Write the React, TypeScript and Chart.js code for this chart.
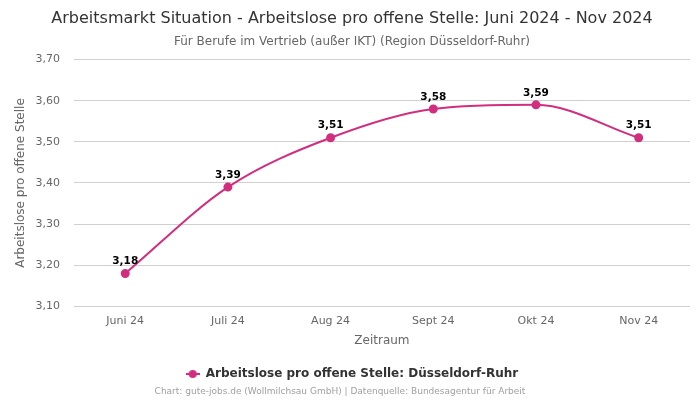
import React, { useEffect, useRef } from "react";
import { Chart, registerables } from "chart.js";

Chart.register(...registerables);

const categories = ["Juni 24", "Juli 24", "Aug 24", "Sept 24", "Okt 24", "Nov 24"];
const values = [3.18, 3.39, 3.51, 3.58, 3.59, 3.51];
const seriesLabel = "Arbeitslose pro offene Stelle: Düsseldorf-Ruhr";
const titleText = "Arbeitsmarkt Situation - Arbeitslose pro offene Stelle: Juni 2024 - Nov 2024";
const subtitleText = "Für Berufe im Vertrieb (außer IKT) (Region Düsseldorf-Ruhr)";
const footerText = "Chart: gute-jobs.de (Wollmilchsau GmbH) | Datenquelle: Bundesagentur für Arbeit";
const yMin = 3.1;
const yMax = 3.7;

const COLOR = "#d22e7e";
const FONT = "'DejaVu Sans', sans-serif";

const fmt = (v: number) => v.toFixed(2).replace(".", ",");

export default function App() {
  const ref = useRef<HTMLCanvasElement | null>(null);
  useEffect(() => {
    if (!ref.current) return;
    const legendIcon = document.createElement("canvas");
    legendIcon.width = 14;
    legendIcon.height = 10;
    const lc = legendIcon.getContext("2d")!;
    lc.strokeStyle = COLOR;
    lc.lineWidth = 2;
    lc.beginPath();
    lc.moveTo(0, 5);
    lc.lineTo(14, 5);
    lc.stroke();
    lc.fillStyle = COLOR;
    lc.beginPath();
    lc.arc(7, 5, 4, 0, Math.PI * 2);
    lc.fill();

    const labelPlugin = {
      id: "valueLabels",
      afterDatasetsDraw(chart: any) {
        const ctx = chart.ctx;
        const meta = chart.getDatasetMeta(0);
        ctx.save();
        ctx.font = `bold 10.5px ${FONT}`;
        ctx.fillStyle = "#000";
        ctx.textAlign = "center";
        ctx.textBaseline = "middle";
        meta.data.forEach((pt: any, i: number) => {
          ctx.fillText(fmt(values[i]), pt.x, pt.y - 12);
        });
        ctx.restore();
      },
    };
    const footerPlugin = {
      id: "footer",
      afterDraw(chart: any) {
        const ctx = chart.ctx;
        ctx.save();
        ctx.font = `9px ${FONT}`;
        ctx.fillStyle = "#a0a0a0";
        ctx.textAlign = "center";
        ctx.textBaseline = "middle";
        ctx.fillText(footerText, 340, 392);
        ctx.restore();
      },
    };

    const chart = new Chart(ref.current, {
      type: "line",
      data: {
        labels: categories,
        datasets: [
          {
            label: seriesLabel,
            data: values,
            borderColor: COLOR,
            backgroundColor: COLOR,
            borderWidth: 2,
            pointRadius: 3.5,
            pointHoverRadius: 3.5,
            pointBackgroundColor: COLOR,
            pointBorderColor: COLOR,
            cubicInterpolationMode: "monotone",
          },
        ],
      },
      options: {
        responsive: false,
        animation: false,
        layout: { padding: { left: 14, right: 10, top: 0, bottom: 10 } },
        plugins: {
          title: {
            display: true,
            text: titleText,
            color: "#333",
            font: { family: FONT, size: 16, weight: "normal" },
            padding: { top: 9, bottom: 4 },
          },
          subtitle: {
            display: true,
            text: subtitleText,
            color: "#666",
            font: { family: FONT, size: 12, weight: "normal" },
            padding: { top: 2, bottom: 11 },
          },
          legend: {
            position: "bottom",
            labels: {
              usePointStyle: true,
              pointStyle: legendIcon as any,
              pointStyleWidth: 14,
              color: "#333",
              font: { family: FONT, size: 12, weight: "bold" },
              padding: 10,
            },
          },
          tooltip: { enabled: false },
        },
        scales: {
          x: {
            offset: true,
            grid: { display: false, drawTicks: false },
            border: { display: false },
            ticks: { color: "#666", font: { family: FONT, size: 11 }, padding: 8 },
            title: {
              display: true,
              text: "Zeitraum",
              color: "#666",
              font: { family: FONT, size: 12 },
              padding: { top: -2, bottom: 10 },
            },
          },
          y: {
            min: yMin,
            max: yMax,
            grid: { color: "#d0d0d0", drawTicks: false },
            border: { display: false },
            ticks: {
              stepSize: 0.1,
              color: "#666",
              font: { family: FONT, size: 11 },
              padding: 14,
              callback: (v: any) => fmt(Number(v)),
            },
            title: {
              display: true,
              text: "Arbeitslose pro offene Stelle",
              color: "#666",
              font: { family: FONT, size: 12 },
              padding: { top: 0, bottom: -7 },
            },
          },
        },
      },
      plugins: [labelPlugin, footerPlugin],
    });
    return () => chart.destroy();
  }, []);
  return (
    <div style={{ position: "fixed", left: 0, top: 0, width: 700, height: 400 }}>
      <canvas ref={ref} width={700} height={400} style={{ display: "block" }} />
    </div>
  );
}
